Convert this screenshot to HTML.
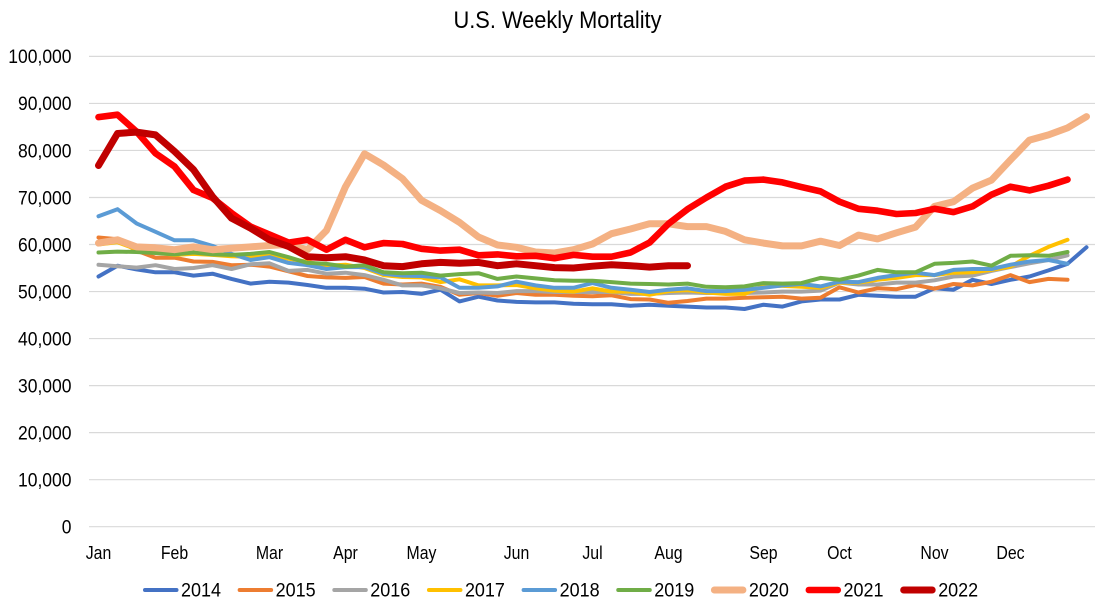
<!DOCTYPE html>
<html lang="en">
<head>
<meta charset="utf-8">
<title>U.S. Weekly Mortality</title>
<style>
html,body{margin:0;padding:0;background:#fff;width:1112px;height:607px;overflow:hidden}
svg{display:block}
text{font-family:"Liberation Sans",sans-serif;fill:#000}
</style>
</head>
<body>
<svg id="chart" xmlns="http://www.w3.org/2000/svg" width="1112" height="607" viewBox="0 0 1112 607">
<rect x="0" y="0" width="1112" height="607" fill="#fff"/>
<text x="557.5" y="28" text-anchor="middle" font-size="24" textLength="208" lengthAdjust="spacingAndGlyphs">U.S. Weekly Mortality</text>
<g id="grid"></g>
<g id="yaxis"></g>
<g id="xaxis"></g>
<g id="series"></g>
<g id="legend"></g>
</svg>
<script>
const categories = ['Jan','','','','Feb','','','','','Mar','','','','Apr','','','','May','','','','','Jun','','','','Jul','','','','Aug','','','','','Sep','','','','Oct','','','','','Nov','','','','Dec','','','',''];
const yTicks = [0,10000,20000,30000,40000,50000,60000,70000,80000,90000,100000];
const seriesNames = ['2014','2015','2016','2017','2018','2019','2020','2021','2022'];
const seriesColors = ['#4472C4','#ED7D31','#A5A5A5','#FFC000','#5B9BD5','#70AD47','#F4B183','#FF0000','#C00000'];
const seriesWidths = [4,4,4,4,4,4,7,6.6,7];
const v2014 = [53200,55500,54700,54100,54100,53400,53800,52700,51700,52100,51900,51400,50800,50800,50600,49800,49900,49500,50400,47900,48900,48100,47800,47700,47700,47400,47300,47300,47000,47200,47000,46800,46600,46600,46300,47200,46800,47900,48300,48300,49300,49100,48900,48900,50700,50400,52500,51600,52500,53200,54500,55900,59400];
const v2015 = [61500,61100,58700,57200,57200,56400,56300,55600,55700,55300,54300,53300,53000,52900,53100,51700,51500,51700,51000,49300,49700,49100,49700,49300,49300,49100,49000,49200,48400,48300,47600,48000,48500,48500,48700,48800,48900,48500,48700,50900,49800,50700,50500,51400,50600,51600,51300,52100,53500,52000,52700,52500];
const v2016 = [55700,55400,55100,55600,54800,55000,55600,54800,55800,56000,54400,54600,53800,54000,53500,52500,51300,51300,50700,49700,49800,49700,50100,50100,49900,49900,49900,49900,49500,49500,49700,49800,49700,49700,49700,49800,50000,50000,50200,51900,51500,51500,51900,51900,52400,53200,53400,54400,55200,56000,56700,57700];
const v2017 = [60000,60500,59000,58300,57800,58000,57800,57500,57400,57800,57000,56300,55500,55700,55000,53500,53100,53000,52000,52600,51300,51300,51400,50700,50200,50000,50700,50000,50000,49300,50100,50300,49800,49500,49500,51200,51200,51000,50800,51900,51900,52500,52900,53500,53500,54000,54100,54600,55300,57600,59500,61000];
const v2018 = [66000,67500,64500,62700,60900,60900,59700,58000,56700,57300,56100,55600,54800,55200,55200,53800,53400,53300,53000,50800,50800,51100,52100,51300,50800,50800,51800,50800,50400,49900,50400,50700,50100,50100,50400,50800,51300,51600,51100,52100,52000,52900,53500,54000,53500,54600,54800,54800,55700,56400,56700,55900];
const v2019 = [58300,58500,58400,58200,57900,58300,57900,57800,58000,58400,57300,56100,55900,55300,55600,54100,53900,54000,53400,53700,53900,52700,53200,52800,52400,52300,52300,52000,51700,51600,51500,51700,51000,50900,51100,51800,51700,51800,52900,52500,53400,54600,54100,54100,55900,56100,56400,55500,57600,57700,57600,58400];
const v2020 = [60300,61000,59500,59300,58900,59500,58900,59200,59500,59800,60000,58900,63000,72300,79300,76900,74000,69400,67200,64700,61600,59900,59400,58400,58200,58900,60100,62300,63300,64400,64400,63800,63800,62800,61000,60300,59700,59700,60700,59800,62000,61200,62500,63700,68100,69100,72000,73700,78000,82200,83300,84800,87200];
const v2021 = [87100,87600,84000,79400,76600,71600,69900,66700,63800,62100,60400,61000,58900,61000,59400,60300,60100,59100,58700,58900,57700,57900,57500,57600,57100,57800,57400,57400,58300,60400,64400,67500,70000,72300,73600,73800,73200,72200,71300,69100,67600,67200,66500,66700,67600,66900,68100,70600,72300,71500,72500,73800];
const v2022 = [76800,83600,83900,83300,79800,75900,70200,65600,63500,61000,59600,57400,57200,57400,56700,55500,55300,55900,56200,56000,56200,55500,55900,55500,55100,55000,55400,55700,55500,55200,55500,55500];
const seriesValues = [v2014,v2015,v2016,v2017,v2018,v2019,v2020,v2021,v2022];

const NS = 'http://www.w3.org/2000/svg';
const xLeft = 98.5, xStep = 19, gridLeft = 89, gridRight = 1095;
const yBase = 526.7, yTop = 56.4, yMax = 100000;
function xScale(i){ return xLeft + xStep * i; }
function yScale(v){ return yBase - (v / yMax) * (yBase - yTop); }
function fmt(n){ return n.toLocaleString('en-US'); }
function make(tag, attrs, parent, txt){
  const el = document.createElementNS(NS, tag);
  for (const k in attrs) el.setAttribute(k, attrs[k]);
  if (txt !== undefined) el.textContent = txt;
  parent.appendChild(el);
  return el;
}
function squeeze(el, factor){
  const w = el.getComputedTextLength();
  el.setAttribute('textLength', (w * factor).toFixed(1));
  el.setAttribute('lengthAdjust', 'spacingAndGlyphs');
}
const gridG = document.getElementById('grid');
const yG = document.getElementById('yaxis');
const xG = document.getElementById('xaxis');
const sG = document.getElementById('series');
const lG = document.getElementById('legend');

yTicks.forEach(function(t){
  const y = yScale(t);
  const line = make('line', {x1:gridLeft, x2:gridRight, y1:y, y2:y, stroke:'#D9D9D9', 'stroke-width':1.2}, gridG);
  
  
  const label = make('text', {x:71.5, y:y+6.8, 'text-anchor':'end', 'font-size':19}, yG, fmt(t));
  
  
  squeeze(label, 0.92);
});

categories.forEach(function(c, i){
  if (!c) return;
  const label = make('text', {x:xScale(i), y:559, 'text-anchor':'middle', 'font-size':18}, xG, c);
  
  
  squeeze(label, 0.88);
});

seriesValues.forEach(function(vals, s){
  const pts = vals.map(function(v, i){ return xScale(i).toFixed(1) + ',' + yScale(v).toFixed(1); }).join(' ');
  const line = make('polyline', {points:pts, fill:'none', stroke:seriesColors[s], 'stroke-width':seriesWidths[s], 'stroke-linejoin':'round', 'stroke-linecap':'round'}, sG);
  
  
});

seriesNames.forEach(function(n, s){
  const x0 = 143 + s * 94.65;
  const w = seriesWidths[s];
  const swatch = make('line', {x1:x0 + w / 2, x2:x0 + 35.5 - w / 2, y1:590, y2:590, stroke:seriesColors[s], 'stroke-width':w, 'stroke-linecap':'round'}, lG);
  
  
  const label = make('text', {x:x0 + 38, y:596.7, 'font-size':19, textLength:40, lengthAdjust:'spacingAndGlyphs'}, lG, n);
  
  
});
</script>
</body>
</html>
